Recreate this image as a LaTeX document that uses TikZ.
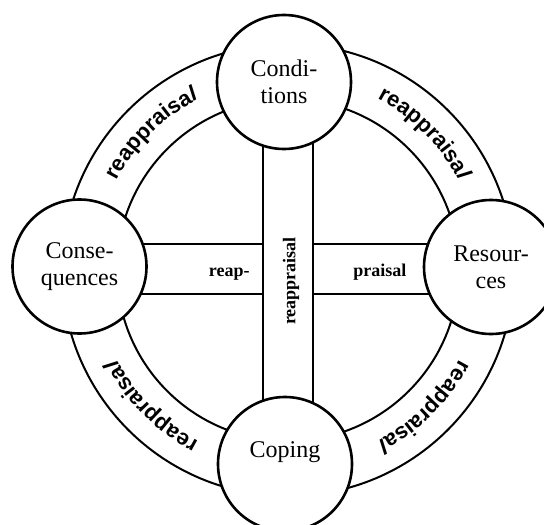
\documentclass[tikz,border=0pt]{standalone}
\usepackage{fontspec}
\setmainfont{Liberation Serif}
\newfontfamily\arcfont{Liberation Sans}
\usetikzlibrary{decorations.text,backgrounds}
\newcommand\arcup{\arcfont\bfseries\fontsize{11}{13}\selectfont}
\newcommand\arcit{\arcfont\bfseries\itshape\fontsize{11}{13}\selectfont}
\begin{document}
\begin{tikzpicture}[x=0.5pt,y=0.5pt,
  stage/.style={circle, draw, line width=1.3pt, fill=white, minimum size=67pt,
    inner sep=0pt, align=center, font=\fontsize{12}{13.5}\selectfont},
  ringline/.style={line width=1pt},
  barline/.style={line width=1pt},
  barlabel/.style={font=\fontsize{9}{10}\selectfont\bfseries, inner sep=0pt},
  arctext/.style={decorate, decoration={text along path, text align=center,
    text={|\arcup|reappraisa|\arcit|l}}}
]
\clip (-288,-254) rectangle (256,270);
% circles (stages)
\node[stage] (cond) at (-4,188) {Condi-\\tions};
\node[stage] (cope) at (-3,-194) {\raisebox{6pt}[\height][\depth]{Coping}};
\node[stage] (cons) at (-208.5,3.5) {Conse-\\quences};
\node[stage] (res)  at (203,3) {Resour-\\ces};
% helper coordinates for the bars
\coordinate (vL) at (-25,0);
\coordinate (vR) at (25,0);
\coordinate (hT) at (0,26);
\coordinate (hB) at (0,-24);
\begin{scope}[on background layer]
  \draw[ringline] (0,0) circle[radius=226];
  \draw[ringline] (0,0) circle[radius=171];
  \draw[barline] (cond.center -| vL) -- (cope.center -| vL);
  \draw[barline] (cond.center -| vR) -- (cope.center -| vR);
  \draw[barline] (cons.center |- hT) -- (vL |- hT);
  \draw[barline] (cons.center |- hB) -- (vL |- hB);
  \draw[barline] (vR |- hT) -- (res.center |- hT);
  \draw[barline] (vR |- hB) -- (res.center |- hB);
\end{scope}
% bar labels
\node[barlabel, anchor=base east] (lreap) at (-38,-6.7) {reap-};
\node[barlabel, anchor=base west] (lprais) at (65,-6.7) {praisal};
\node[barlabel, rotate=90] (lvert) at (3,-11) {reappraisal};
% ring labels
\path[arctext] (180:193) arc[start angle=180, end angle=90, radius=193];
\path[arctext] (90:193) arc[start angle=90, end angle=0, radius=193];
\path[arctext] (0:193) arc[start angle=0, end angle=-90, radius=193];
\path[arctext] (-90:193) arc[start angle=-90, end angle=-180, radius=193];
\end{tikzpicture}
\end{document}
